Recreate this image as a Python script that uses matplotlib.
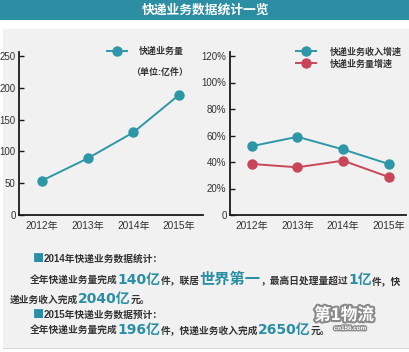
import matplotlib
matplotlib.use("Agg")
import matplotlib.pyplot as plt
from matplotlib.patches import Rectangle
import matplotlib.patheffects as pe

plt.rcParams['font.family'] = ['Liberation Sans', 'Noto Sans CJK SC', 'DejaVu Sans']

# ---- data ----
years = ["2012年", "2013年", "2014年", "2015年"]
volume = [54, 89, 130, 189]                 # 快递业务量 (亿件)
revenue_growth = [52, 59, 49.5, 38.5]       # 快递业务收入增速 (%)
volume_growth = [38.5, 36, 41, 28.7]        # 快递业务量增速 (%)
left_yticks = [0, 50, 100, 150, 200, 250]
right_yticks = [0, 20, 40, 60, 80, 100, 120]
right_yticklabels = ["0", "20%", "40%", "60%", "80%", "100%", "120%"]

TEAL = "#2d97a7"
RED = "#c9465a"
TITLE_BG = "#2b8ea3"
TXT = "#333333"
BIG = "#2a8ea5"

W, H = 410, 352
fig = plt.figure(figsize=(W / 100, H / 100), dpi=100, facecolor="white")

def fx(px):
    return px / W

def fy(py):
    return 1 - py / H

# background panels
fig.patches.append(Rectangle((0, fy(20)), 1, 20 / H, transform=fig.transFigure,
                             facecolor=TITLE_BG, edgecolor="none", zorder=-10))
fig.patches.append(Rectangle((fx(3), fy(348)), 1, (348 - 29) / H, transform=fig.transFigure,
                             facecolor="#f1f1f1", edgecolor="none", zorder=-10))
fig.patches.append(Rectangle((fx(3), fy(349)), 1, 1.2 / H, transform=fig.transFigure,
                             facecolor="#d8d8d8", edgecolor="none", zorder=-10))
fig.text(0.5, fy(10.5), "快递业务数据统计一览", color="white", fontsize=9.2,
         fontweight="bold", ha="center", va="center",
         family=['Noto Sans CJK SC', 'DejaVu Sans'])

def style_axes(ax):
    ax.set_facecolor("none")
    for s in ("top", "right"):
        ax.spines[s].set_visible(False)
    for s in ("left", "bottom"):
        ax.spines[s].set_color("#1a1a1a")
        ax.spines[s].set_linewidth(1.3)
    ax.tick_params(axis="y", direction="in", length=3.5, width=1.0, color="#1a1a1a",
                   labelsize=7, labelcolor=TXT, pad=2.5)
    ax.tick_params(axis="x", length=0, labelsize=7.3, labelcolor=TXT, pad=4)

# left axes
top_px, bot_px = 52, 215
axL = fig.add_axes([fx(19), fy(bot_px), fx(203 - 19), (bot_px - top_px) / H])
style_axes(axL)
xs = list(range(len(years)))
axL.plot(xs, volume, color=TEAL, lw=1.4, marker="o", ms=6.5, label="快递业务量")
axL.set_xlim(-0.5, 3.52)
axL.set_ylim(0, 250 * 163 / 159)
axL.set_yticks(left_yticks)
axL.set_xticks(xs)
axL.set_xticklabels(years)
legL = axL.legend(loc="upper left", bbox_to_anchor=(fx(107), fy(47)),
                  bbox_transform=fig.transFigure, frameon=False,
                  prop={'size': 6.5, 'weight': 'bold'},
                  handlelength=2.2, handletextpad=1.3, borderpad=0, borderaxespad=0)
for t in legL.get_texts():
    t.set_color(TXT)
fig.text(fx(160), fy(72), "（单位:亿件）", fontsize=6.5, color=TXT, ha="center", va="center",
         fontweight="bold")

# right axes
axR = fig.add_axes([fx(230), fy(bot_px), fx(406 - 230), (bot_px - top_px) / H])
style_axes(axR)
axR.plot(xs, revenue_growth, color=TEAL, lw=1.4, marker="o", ms=6.5, label="快递业务收入增速")
axR.plot(xs, volume_growth, color=RED, lw=1.4, marker="o", ms=6.5, label="快递业务量增速")
axR.set_xlim(-0.48, 3.38)
axR.set_ylim(0, 120 * 163 / 159)
axR.set_yticks(right_yticks)
axR.set_yticklabels(right_yticklabels)
axR.set_xticks(xs)
axR.set_xticklabels(years)
legR = axR.legend(loc="upper left", bbox_to_anchor=(fx(296), fy(47)),
                  bbox_transform=fig.transFigure, frameon=False,
                  prop={'size': 6.5, 'weight': 'bold'},
                  handlelength=2.2, handletextpad=1.5, borderpad=0, borderaxespad=0,
                  labelspacing=0.3)
for t in legR.get_texts():
    t.set_color(TXT)

# ---- text block ----
renderer = fig.canvas.get_renderer()

SMALL = 7.0
def pieces_line(x_px, y_px, pieces):
    x = x_px
    for text, size, color, weight, fam in pieces:
        t = fig.text(fx(x), fy(y_px), text, fontsize=size, color=color,
                     fontweight=weight, ha="left", va="baseline", family=fam)
        bb = t.get_window_extent(renderer=renderer)
        x += bb.width

CJK = ['Noto Sans CJK SC', 'DejaVu Sans']
NUM = ['DejaVu Sans', 'Noto Sans CJK SC']
S = lambda s: (s, SMALL, TXT, "bold", ['Liberation Sans', 'Noto Sans CJK SC'])
B = lambda s: (s, 10, BIG, "bold", NUM)
BC = lambda s: (s, 11, BIG, "bold", CJK)
sq = ("■", 8, BIG, "bold", CJK)

pieces_line(33, 262, [sq, S("2014年快递业务数据统计：")])
pieces_line(30, 284, [S("全年快递业务量完成"), B("140亿"), S("件，联居"), BC("世界第一"),
                      S("，最高日处理量超过"), B("1亿"), S("件，快")])
pieces_line(10, 303, [S("递业务收入完成"), B("2040亿"), S("元。")])
pieces_line(33, 318, [sq, S("2015年快递业务数据预计：")])
pieces_line(30, 334, [S("全年快递业务量完成"), B("196亿"), S("件，快递业务收入完成"),
                      B("2650亿"), S("元。")])

# watermark
wm = fig.text(fx(344), fy(320), "第1物流", fontsize=12, color="white", fontweight="bold",
              ha="center", va="baseline", family=CJK)
wm.set_path_effects([pe.withStroke(linewidth=3, foreground="#8a8a8a")])
wm2 = fig.text(fx(350), fy(330), "cn156.com", fontsize=4.5, color="white", fontweight="bold",
               ha="center", va="baseline")
wm2.set_path_effects([pe.withStroke(linewidth=2, foreground="#8a8a8a")])

fig.savefig("out.png", dpi=100, facecolor="white")
